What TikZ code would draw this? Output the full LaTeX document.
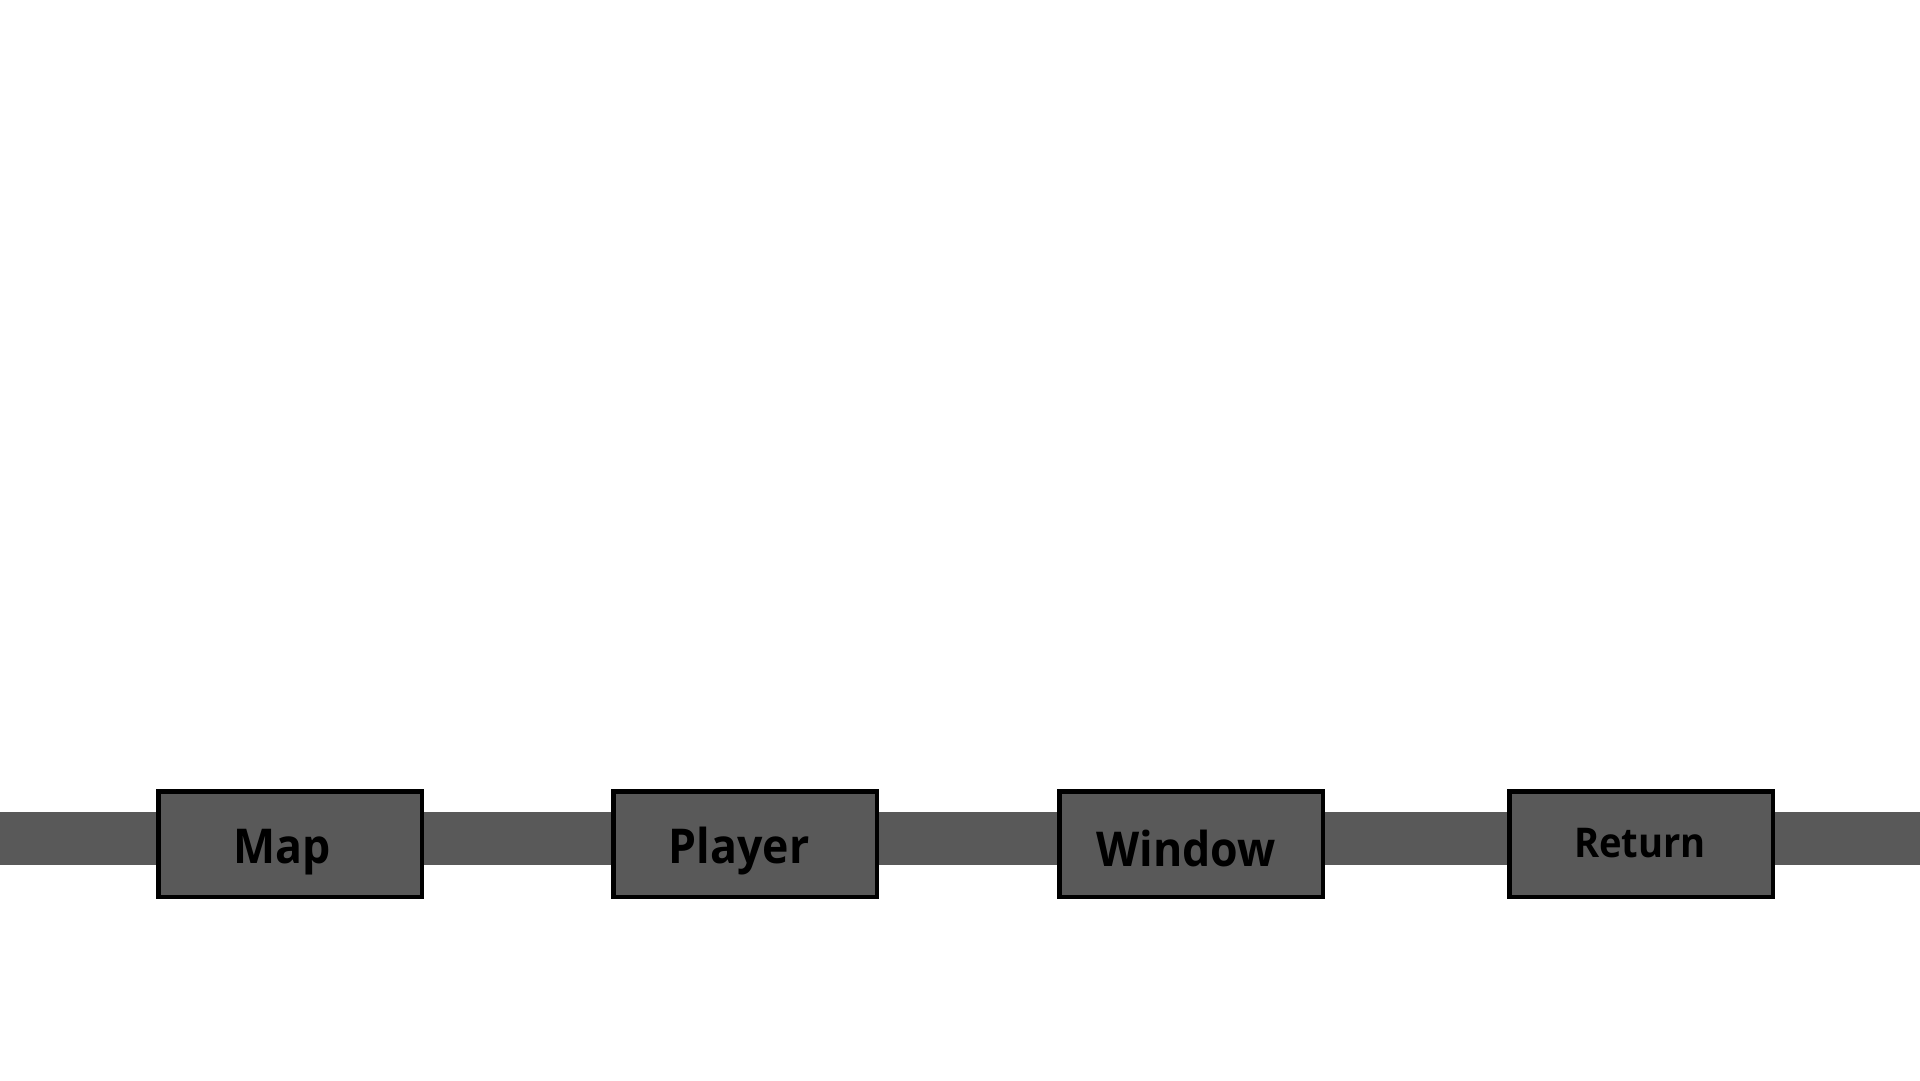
\documentclass[tikz,border=0pt]{standalone}
\usepackage{fontspec}
\setmainfont{Open Sans}[FakeStretch=0.93]
\definecolor{bargray}{HTML}{595959}
\newcommand\boxtext[3]{\makebox[0pt]{\kern#1\raisebox{#2}[0pt][0pt]{#3}\kern-#1}}
\begin{document}
\begin{tikzpicture}[x=1pt,y=-1pt,
  stagebox/.style={draw=black,line width=4.5pt,fill=bargray,rectangle,
    minimum width=263.5pt,minimum height=105.5pt,inner sep=0pt,
    font=\fontsize{48}{48}\selectfont\bfseries,text=black},
  barline/.style={draw=bargray,line width=53pt}]
\useasboundingbox[fill=white] (0,0) rectangle (1920,1080);
\coordinate (start) at (0,838.5);
\coordinate (finish) at (1920,838.5);
\node[stagebox] (map) at (290,844) {\boxtext{-8pt}{-19pt}{Map}};
\node[stagebox] (player) at (745,844) {\boxtext{-6pt}{-19pt}{Player}};
\node[stagebox] (window) at (1191,844) {\boxtext{-5pt}{-22pt}{Window}};
\node[stagebox,font=\fontsize{41}{41}\selectfont\bfseries] (return) at (1641,844) {\boxtext{-1pt}{-13pt}{Return}};
\draw[barline] (start) -- (start -| map.west);
\draw[barline] (start -| map.east) -- (start -| player.west);
\draw[barline] (start -| player.east) -- (start -| window.west);
\draw[barline] (start -| window.east) -- (start -| return.west);
\draw[barline] (start -| return.east) -- (finish);
\end{tikzpicture}
\end{document}
